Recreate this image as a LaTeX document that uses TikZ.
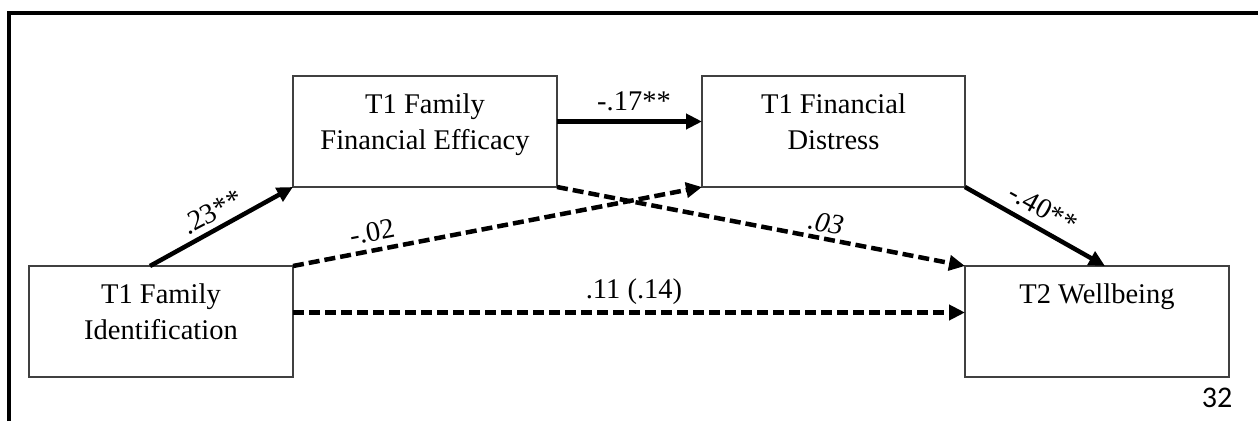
\documentclass[tikz,border=0pt]{standalone}
\usepackage{fontspec}
\setmainfont{Liberation Serif}
\newfontfamily\pagenumfont{Carlito}
\usetikzlibrary{arrows.meta,calc}
\begin{document}
\begin{tikzpicture}[x=1pt,y=-1pt,
  box/.style={draw=black!75,line width=1.4pt,minimum width=264pt,minimum height=111pt,anchor=north west,inner sep=0pt,outer sep=0pt},
  boxtext/.style={anchor=north,align=center,inner sep=0pt,font=\fontsize{28.5}{36}\selectfont},
  lab/.style={inner sep=0pt,font=\fontsize{28.5}{34}\selectfont},
  solidarrow/.style={line width=4.5pt,-{Triangle[length=16pt,width=15pt]}},
  dasharrow/.style={solidarrow,dash pattern=on 11pt off 5pt},
  frameline/.style={line width=4.5pt,line join=miter}]
\useasboundingbox (0,0) rectangle (1258,421);
\fill[white] (0,0) rectangle (1258,421);
% page frame
\coordinate (f1) at (9,421);
\coordinate (f2) at (9,13);
\coordinate (f3) at (1258,13);
\draw[frameline] (f1) -- (f2) -- (f3);
% boxes
\node[box] (A) at (29,266) {};
\node[box] (B) at (293,76) {};
\node[box,minimum width=263pt] (C) at (702,76) {};
\node[box] (D) at (965,266) {};
% box texts
\node[boxtext] (At) at ($(A.north)+(0,18)$) {T1 Family\\Identification};
\node[boxtext] (Bt) at ($(B.north)+(0,18)$) {T1 Family\\Financial Efficacy};
\node[boxtext] (Ct) at ($(C.north)+(0,18)$) {T1 Financial\\Distress};
\node[boxtext] (Dt) at ($(D.north)+(0,18)$) {T2 Wellbeing};
% connectors
\draw[solidarrow] ($(A.north)+(-11,0)$) -- (B.south west);
\draw[dasharrow] (A.north east) -- (C.south west);
\draw[dasharrow] (B.south east) -- (D.north west);
\draw[solidarrow] ($(B.east)+(0,-10)$) -- ($(C.west)+(0,-10)$);
\draw[solidarrow] (C.south east) -- ($(D.north)+(8,0)$);
\draw[dasharrow] ($(A.east)+(0,-9)$) -- ($(D.west)+(0,-9)$);
% labels
\node[lab,rotate=28] (l1) at (212,212) {.23**};
\node[lab,rotate=11] (l2) at (372,232) {-.02};
\node[lab] (l3) at (634,101) {-.17**};
\node[lab,rotate=-11,font=\fontsize{28.5}{34}\selectfont\itshape] (l4) at (826,223) {.03};
\node[lab,rotate=-29] (l5) at (1043,208) {-.40**};
\node[lab] (l6) at (634,292) {.11 (.14)};
\node[inner sep=0pt,font=\pagenumfont\fontsize{30}{36}\selectfont] (pg) at (1217,398) {32};
\end{tikzpicture}
\end{document}
